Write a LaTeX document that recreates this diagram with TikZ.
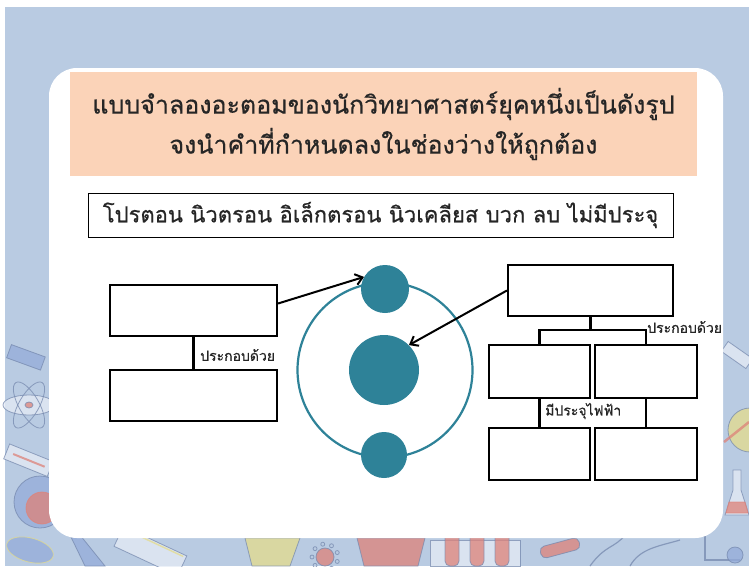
\documentclass[tikz,border=0pt]{standalone}
\usepackage{fontspec}
\newfontfamily\thai[Script=Thai,FakeBold=0.6]{Loma}
\usetikzlibrary{arrows.meta}
\definecolor{pagebg}{HTML}{B9CBE2}
\definecolor{peach}{HTML}{FBD3B8}
\definecolor{teal}{HTML}{2E8298}
\definecolor{dblue}{HTML}{94ABD9}
\definecolor{dpale}{HTML}{E6ECF6}
\definecolor{dyel}{HTML}{E4DC8C}
\definecolor{dred}{HTML}{DE8279}
\begin{document}
\begin{tikzpicture}[x=1pt,y=-1pt,
  blank/.style={draw=black, line width=2.1pt, fill=white, inner sep=0pt},
  link/.style={draw=black, line width=2.1pt},
  pointer/.style={draw=black, line width=2pt, -{Straight Barb[length=7pt,width=11pt,line width=2pt]}},
  ball/.style={circle, fill=teal, inner sep=0pt},
  lbl/.style={font=\thai\fontsize{14}{16}\selectfont, inner sep=0pt, text=black!85},
  doodle/.style={draw=dblue!80!black, line width=0.8pt, opacity=0.75}]
\useasboundingbox (0,0) rectangle (749,566);
% page background
\fill[white] (0,0) rectangle (749,566);
\fill[pagebg] (5,7) rectangle (749,566);
% faint lab doodles around the edge
\begin{scope}[doodle]
  % goggles
  \filldraw[fill=dblue, rotate around={-20:(25,357)}] (8,350) rectangle (44,364);
  % atom symbol
  \filldraw[fill=dpale] (29,405) ellipse (26pt and 10pt);
  \draw[rotate around={60:(29,405)}] (29,405) ellipse (26pt and 10pt);
  \draw[rotate around={-60:(29,405)}] (29,405) ellipse (26pt and 10pt);
  \filldraw[fill=dred] (29,405) ellipse (4pt and 3pt);
  % thermometer card
  \filldraw[fill=dpale, rotate around={-22:(28,460)}] (5,452) rectangle (52,468);
  \draw[draw=dred, line width=2pt, rotate around={-22:(28,460)}] (12,460) -- (46,460);
  % petri dish
  \filldraw[fill=dblue] (40,502) circle (26pt);
  \filldraw[fill=dred, draw=dred] (42,508) circle (16pt);
  % small dish, bottom left
  \filldraw[fill=dblue, draw=dyel, rotate around={-15:(30,550)}] (30,550) ellipse (24pt and 12pt);
  % flask neck
  \filldraw[fill=dblue] (70,535) -- (80,535) -- (105,566) -- (85,566) -- cycle;
  % book
  \filldraw[fill=dpale, rotate around={-25:(150,552)}] (115,540) rectangle (185,562);
  \draw[draw=dyel, line width=1.5pt, rotate around={-25:(150,552)}] (118,542) -- (182,542);
  % yellow dish
  \filldraw[fill=dyel] (245,538) -- (300,538) -- (290,566) -- (252,566) -- cycle;
  % virus
  \filldraw[fill=dred] (325,557) circle (9pt);
  \foreach \a in {0,40,...,320} \draw (325,557) ++(\a:-13pt) circle (2pt);
  % clay pot
  \filldraw[fill=dred] (357,538) -- (425,538) -- (418,566) -- (364,566) -- cycle;
  % test tubes in a rack
  \filldraw[fill=dpale] (430,540) rectangle (520,566);
  \foreach \x in {445,470,495} {
    \filldraw[fill=dred, rounded corners=5pt] (\x,533) rectangle (\x+14,566);
  }
  % capsule
  \filldraw[fill=dred, rounded corners=5pt, rotate around={15:(560,548)}] (540,542) rectangle (580,554);
  % tools
  \draw[line width=1.2pt] (590,566) .. controls (605,545) and (615,548) .. (625,535);
  \draw[line width=1.2pt] (630,566) .. controls (640,548) and (660,546) .. (680,540);
  % stand and burner
  \draw[line width=1.5pt] (705,520) -- (705,560) -- (740,560);
  \filldraw[fill=dblue] (735,555) circle (8pt);
  % syringe
  \filldraw[fill=dpale, rotate around={-35:(737,355)}] (722,349) rectangle (752,361);
  % planet
  \filldraw[fill=dyel] (750,430) circle (22pt);
  \draw[draw=dred, line width=2.5pt] (724,442) -- (749,422);
  % flask
  \filldraw[fill=dpale] (733,470) -- (741,470) -- (741,490) -- (749,515) -- (725,515) -- (733,490) -- cycle;
  \filldraw[fill=dred, draw=dred] (729,502) -- (745,502) -- (748,513) -- (726,513) -- cycle;
\end{scope}
% white card
\fill[white, rounded corners=28pt] (49,68) rectangle (723,538);
% heading band
\node[fill=peach, minimum width=627pt, minimum height=104pt, inner sep=0pt,
      font=\thai\fontsize{25}{40}\selectfont, align=center, text=black!85]
  (title) at (383.5,124) {แบบจำลองอะตอมของนักวิทยาศาสตร์ยุคหนึ่งเป็นดังรูป\\จงนำคำที่กำหนดลงในช่องว่างให้ถูกต้อง};
% word bank
\node[draw=black, line width=0.8pt, minimum width=585pt, minimum height=44pt, inner sep=0pt,
      font=\thai\fontsize{22}{26}\selectfont, text=black!85]
  (bank) at (380.5,215) {โปรตอน นิวตรอน อิเล็กตรอน นิวเคลียส บวก ลบ ไม่มีประจุ};
% atom model
\node[circle, draw=teal, line width=2.2pt, minimum size=175pt, inner sep=0pt] (orbit) at (385,370) {};
\node[ball, minimum size=48pt] (eTop) at (385,289) {};
\node[ball, minimum size=46pt] (eBot) at (384,455) {};
\node[ball, minimum size=70pt] (nuc) at (384,370) {};
% left blanks
\node[blank, minimum width=167pt, minimum height=51pt] (lA) at (193.5,310.5) {};
\node[blank, minimum width=167pt, minimum height=51pt] (lB) at (193.5,395.5) {};
\draw[link] (lA.south) -- (lB.north);
\node[lbl, anchor=west] (lLbl) at (200,355) {ประกอบด้วย};
% right blanks
\node[blank, minimum width=165pt, minimum height=51pt] (rTop) at (590.5,290.5) {};
\node[blank, minimum width=101pt, minimum height=53pt] (m1) at (539.5,371.5) {};
\node[blank, minimum width=102pt, minimum height=53pt] (m2) at (646,371.5) {};
\node[blank, minimum width=101pt, minimum height=52pt] (b1) at (539.5,454) {};
\node[blank, minimum width=102pt, minimum height=52pt] (b2) at (646,454) {};
\coordinate (bar) at (0,330);
\draw[link] (rTop.south) -- (rTop.south |- bar);
\draw[link] (m1.north) -- (m1.north |- bar) -- (m2.north |- bar) -- (m2.north);
\draw[link] (m1.south) -- (b1.north);
\draw[link] (m2.south) -- (b2.north);
\node[lbl, anchor=west] (rLbl) at (647,327) {ประกอบด้วย};
\node[lbl, anchor=west] (cLbl) at (545,411) {มีประจุไฟฟ้า};
% pointers into the atom
\draw[pointer] ([yshift=7pt]lA.east) -- (eTop.150);
\draw[pointer] (rTop.west) -- (nuc.45);
\end{tikzpicture}
\end{document}
